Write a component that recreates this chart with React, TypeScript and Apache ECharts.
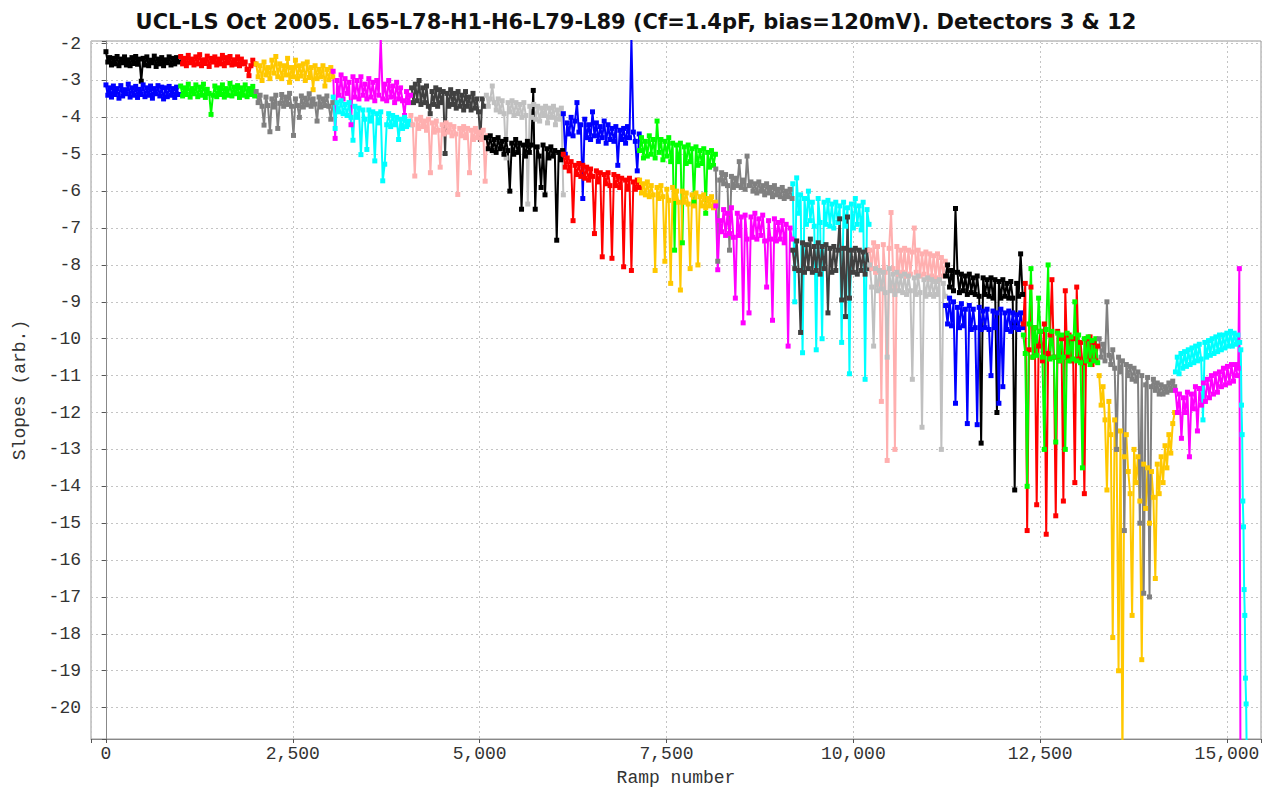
import React, { useEffect, useRef } from "react";
import * as echarts from "echarts";

// ---- axis ticks ----
const xTicks = [0, 2500, 5000, 7500, 10000, 12500, 15000];
const yTicks = [-2, -3, -4, -5, -6, -7, -8, -9, -10, -11, -12, -13, -14, -15, -16, -17, -18, -19, -20];

// ---- series values, evenly spread over each ramp block ----
const blk01Black = [-2.22,-2.5,-2.38,-2.58,-2.4,-2.55,-2.35,-2.6,-2.42,-2.52,-2.36,-2.58,-2.44,-2.6,-2.38,-2.54,-2.35,-2.56,-2.42,-3.02,-2.4,-2.58,-2.36,-2.6,-2.45,-2.52,-2.34,-2.62,-2.42,-2.55,-2.38,-2.6,-2.44,-2.52,-2.36,-2.58,-2.4,-2.55,-2.38,-2.5];
const blk01Blue = [-3.12,-3.4,-3.2,-3.45,-3.15,-3.38,-3.22,-3.48,-3.14,-3.42,-3.25,-3.36,-3.1,-3.45,-3.2,-3.4,-3.16,-3.46,-3.24,-3.38,-3.12,-3.44,-3.2,-3.4,-3.15,-3.48,-3.22,-3.36,-3.14,-3.42,-3.18,-3.5,-3.2,-3.44,-3.16,-3.4,-3.22,-3.46,-3.18,-3.38];
const blk02Red = [-2.35,-2.55,-2.4,-2.6,-2.32,-2.52,-2.42,-2.58,-2.36,-2.55,-2.3,-2.6,-2.44,-2.54,-2.34,-2.62,-2.4,-2.5,-2.36,-2.58,-2.42,-2.55,-2.32,-2.6,-2.38,-2.52,-2.35,-2.58,-2.44,-2.56,-2.36,-2.6,-2.42,-2.55,-2.5,-2.7,-2.87,-2.6,-2.45,-2.55];
const blk02Green = [-3.15,-3.42,-3.2,-3.38,-3.1,-3.45,-3.22,-3.36,-3.12,-3.44,-3.18,-3.4,-3.1,-3.46,-3.24,-3.35,-3.92,-3.4,-3.15,-3.44,-3.2,-3.38,-3.12,-3.45,-3.22,-3.4,-3.08,-3.42,-3.18,-3.36,-3.14,-3.46,-3.2,-3.4,-3.12,-3.44,-3.22,-3.38,-3.16,-3.42];
const blk03Orange = [-2.55,-2.9,-2.6,-3.0,-2.5,-2.85,-2.65,-2.95,-2.45,-2.8,-2.35,-2.9,-2.55,-2.95,-2.6,-2.85,-2.4,-3.05,-2.65,-2.9,-2.45,-2.95,-2.6,-2.88,-2.55,-3.0,-2.5,-2.92,-2.65,-3.25,-2.6,-2.95,-2.7,-2.9,-2.6,-3.15,-2.7,-2.98,-2.65,-2.9];
const blk03Gray = [-3.3,-3.6,-3.4,-3.7,-4.21,-3.45,-3.68,-4.39,-3.5,-3.72,-3.4,-4.3,-3.62,-3.38,-3.7,-3.45,-3.65,-3.35,-3.7,-4.49,-3.5,-3.68,-4.0,-3.42,-3.72,-3.48,-3.66,-3.36,-3.7,-3.5,-3.64,-4.1,-3.45,-3.72,-3.5,-3.68,-3.42,-3.7,-4.05,-3.6];
const blk04Magenta = [-2.75,-4.57,-3.0,-3.4,-2.85,-3.5,-2.95,-3.35,-3.05,-4.2,-2.9,-3.45,-3.0,-3.5,-2.9,-3.4,-3.1,-3.5,-2.95,-3.45,-3.05,-3.55,-3.0,-3.4,-1.85,-3.5,-3.1,-3.55,-3.0,-3.45,-3.15,-3.6,-3.05,-3.5,-3.2,-3.55,-3.95,-3.3,-3.6,-3.4];
const blk04Cyan = [-3.45,-4.3,-3.6,-3.85,-3.55,-3.9,-3.65,-3.95,-3.6,-4.0,-4.62,-3.7,-4.0,-3.75,-5.01,-3.8,-4.05,-4.87,-3.8,-4.1,-3.85,-5.18,-3.9,-4.15,-3.85,-5.72,-5.27,-4.2,-3.9,-4.25,-3.95,-4.2,-4.0,-4.6,-4.05,-4.3,-4.0,-4.25,-4.1,-4.2];
const blk05DarkGray = [-3.2,-3.6,-3.1,-3.55,-3.0,-3.65,-3.2,-3.6,-3.15,-3.7,-3.9,-3.3,-3.65,-3.2,-3.7,-3.25,-3.6,-3.3,-4.98,-3.35,-3.7,-3.25,-3.65,-3.35,-3.75,-3.3,-3.7,-3.4,-3.8,-3.3,-3.7,-3.45,-3.8,-3.35,-3.75,-3.5,-3.85,-4.6,-3.5,-3.7];
const blk05Pink = [-3.95,-4.2,-5.59,-4.05,-4.3,-4.0,-4.25,-4.1,-4.35,-4.05,-5.5,-4.15,-4.4,-4.1,-4.35,-5.35,-4.2,-4.45,-4.15,-4.4,-4.2,-4.5,-4.25,-4.45,-6.09,-4.3,-4.5,-4.25,-4.55,-4.3,-5.5,-4.35,-4.6,-4.3,-4.55,-4.4,-4.6,-4.35,-5.73,-4.5];
const blk06LightGray = [-3.4,-3.7,-3.5,-3.15,-3.6,-3.8,-3.5,-3.85,-3.55,-3.9,-5.1,-3.6,-3.85,-3.55,-3.95,-3.6,-3.9,-3.65,-4.0,-3.6,-3.95,-6.35,-3.7,-4.0,-3.65,-4.05,-3.7,-4.1,-3.75,-3.95,-3.7,-4.15,-3.75,-4.0,-3.7,-4.2,-3.8,-4.05,-3.75,-6.1];
const blk06Black = [-4.55,-4.85,-4.5,-4.9,-4.6,-4.95,-4.55,-4.85,-4.65,-5.0,-4.6,-4.9,-6.0,-4.7,-5.0,-4.6,-4.95,-4.7,-6.49,-4.75,-5.05,-4.65,-4.95,-4.75,-3.27,-6.49,-4.8,-5.05,-5.9,-4.75,-6.1,-4.85,-5.1,-4.8,-5.05,-4.9,-7.33,-4.95,-5.15,-4.9];
const blk07Blue = [-3.9,-5.0,-4.15,-4.45,-4.0,-4.5,-4.1,-3.6,-4.4,-4.2,-6.2,-4.05,-4.55,-4.2,-4.6,-3.85,-4.5,-4.15,-4.65,-4.25,-4.55,-4.1,-4.7,-4.2,-4.6,-4.3,-4.65,-4.25,-5.3,-4.35,-4.6,-4.3,-4.7,-4.25,-4.55,-1.85,-4.4,-4.65,-5.45,-4.45];
const blk07Red = [-5.0,-5.35,-5.1,-5.45,-5.2,-6.8,-5.3,-5.55,-5.25,-5.6,-5.3,-5.65,-5.35,-5.7,-5.4,-5.6,-7.15,-5.45,-5.75,-5.5,-7.78,-5.55,-5.8,-5.5,-5.85,-7.82,-5.55,-5.85,-5.6,-5.9,-5.65,-8.05,-5.7,-5.95,-5.65,-8.15,-5.75,-5.95,-5.7,-5.9];
const blk08Green = [-4.9,-4.55,-5.1,-4.65,-5.05,-4.5,-5.0,-4.6,-5.1,-4.1,-4.95,-4.6,-5.15,-4.65,-5.05,-4.55,-5.2,-4.7,-7.6,-4.75,-5.2,-4.7,-7.4,-4.8,-5.25,-4.75,-5.2,-4.85,-6.3,-4.8,-5.3,-4.9,-5.25,-4.85,-6.6,-4.95,-5.35,-4.9,-5.3,-5.0];
const blk08Orange = [-5.7,-6.05,-5.8,-6.1,-5.75,-6.15,-5.85,-6.1,-8.15,-5.9,-6.2,-5.85,-6.15,-7.9,-5.95,-6.25,-8.5,-5.9,-6.2,-6.0,-6.3,-8.68,-6.0,-6.3,-6.05,-6.35,-8.1,-6.1,-6.4,-6.05,-8.0,-6.15,-6.4,-6.1,-6.45,-6.2,-6.4,-6.15,-6.45,-6.3];
const blk09Gray = [-5.4,-7.9,-5.7,-5.5,-5.8,-5.55,-5.85,-7.6,-5.6,-5.9,-5.65,-5.85,-5.2,-5.9,-5.7,-5.95,-5.05,-5.85,-5.75,-6.0,-5.8,-6.05,-5.75,-6.0,-5.85,-6.1,-5.8,-6.05,-5.9,-6.15,-5.85,-6.1,-5.95,-6.15,-5.9,-6.2,-6.0,-6.15,-5.95,-6.2];
const blk09Magenta = [-6.4,-8.13,-6.8,-7.1,-6.5,-7.2,-6.6,-7.15,-6.45,-7.25,-8.9,-6.6,-7.2,-6.7,-9.57,-6.65,-7.3,-9.3,-6.7,-7.25,-6.6,-7.3,-6.75,-7.2,-6.65,-7.35,-8.6,-6.8,-7.3,-9.5,-6.75,-7.35,-6.85,-7.3,-6.8,-7.4,-6.9,-10.2,-7.0,-7.3];
const blk10Cyan = [-5.8,-9.0,-5.64,-6.6,-6.1,-10.38,-6.2,-6.9,-6.0,-6.8,-6.3,-6.95,-10.3,-6.2,-6.85,-10.0,-6.3,-6.9,-6.25,-6.95,-6.35,-7.0,-6.3,-6.85,-6.4,-10.1,-6.3,-6.95,-6.45,-10.95,-6.35,-7.0,-6.2,-6.9,-6.4,-7.05,-6.3,-11.1,-6.5,-6.9];
const blk10DarkGray = [-7.6,-8.1,-7.35,-8.15,-9.83,-7.4,-8.2,-7.45,-8.1,-7.3,-8.2,-7.5,-8.15,-7.4,-8.25,-7.5,-8.1,-7.45,-9.3,-7.55,-8.2,-7.5,-8.15,-7.6,-6.75,-8.95,-7.55,-9.4,-6.7,-8.9,-7.6,-8.2,-7.55,-8.25,-7.6,-8.15,-7.65,-8.25,-7.6,-8.1];
const blk11Pink = [-7.6,-8.1,-7.4,-8.2,-7.5,-8.15,-11.7,-7.45,-8.2,-13.3,-7.55,-6.58,-8.1,-13.0,-7.5,-8.25,-7.6,-8.2,-7.55,-8.3,-7.6,-8.25,-7.65,-7.0,-8.2,-7.6,-8.3,-7.7,-8.25,-7.65,-8.35,-7.7,-8.3,-7.75,-8.35,-7.7,-8.4,-7.8,-8.3,-7.9];
const blk11LightGray = [-8.0,-8.6,-10.2,-8.1,-8.7,-8.15,-8.65,-8.2,-8.75,-10.5,-8.1,-8.7,-8.25,-8.8,-8.2,-8.7,-8.3,-8.75,-8.25,-8.8,-8.3,-8.7,-11.1,-8.35,-8.8,-8.3,-8.75,-12.4,-8.4,-8.85,-8.35,-8.8,-8.4,-8.85,-8.45,-8.8,-8.4,-13.0,-8.5,-8.85];
const blk12Black = [-8.3,-8.0,-8.6,-8.15,-8.7,-6.47,-8.2,-8.75,-8.25,-8.7,-8.3,-8.8,-8.25,-8.75,-8.35,-8.8,-8.3,-8.85,-12.83,-8.35,-8.8,-8.4,-8.85,-8.35,-8.9,-8.4,-12.0,-8.45,-8.9,-8.4,-8.85,-8.5,-8.9,-8.45,-8.9,-14.1,-8.5,-8.85,-7.7,-8.8];
const blk12Blue = [-9.1,-9.6,-8.9,-9.65,-9.0,-11.75,-9.15,-9.7,-9.05,-9.65,-9.2,-12.3,-9.1,-9.75,-9.2,-9.7,-12.33,-9.15,-9.75,-9.25,-9.7,-9.2,-9.75,-11.0,-9.25,-9.7,-9.3,-11.75,-9.2,-11.3,-9.3,-9.75,-9.25,-9.8,-9.3,-9.7,-9.35,-9.75,-9.3,-9.7];
const blk13Red = [-9.6,-8.5,-15.2,-10.3,-8.6,-10.5,-9.7,-14.5,-10.2,-9.8,-10.6,-9.6,-15.3,-10.4,-9.9,-8.4,-10.5,-14.8,-9.8,-10.6,-10.0,-14.4,-8.7,-10.5,-9.9,-10.6,-10.0,-13.9,-8.6,-10.55,-10.1,-10.65,-14.2,-10.0,-10.6,-9.95,-10.7,-10.1,-10.6,-10.2];
const blk13Green = [-9.9,-10.4,-14.0,-9.6,-8.1,-10.5,-9.7,-10.45,-8.9,-9.8,-10.5,-13.0,-9.75,-8.0,-10.55,-9.8,-10.5,-12.8,-9.85,-10.6,-9.9,-10.5,-13.0,-9.85,-10.6,-9.95,-10.55,-9.0,-10.6,-9.9,-10.65,-13.5,-10.0,-10.6,-9.95,-10.7,-10.05,-10.6,-10.0,-10.65];
const blk14Orange = [-11.0,-11.8,-11.3,-12.2,-14.1,-11.7,-12.6,-18.1,-12.2,-13.0,-19.0,-12.5,-21.5,-13.2,-12.6,-13.6,-14.2,-17.5,-13.0,-13.9,-13.2,-14.4,-18.7,-13.4,-14.6,-13.5,-15.0,-13.6,-14.3,-16.5,-13.4,-14.2,-13.2,-13.9,-12.9,-13.5,-12.6,-13.1,-12.3,-12.0];
const blk14Gray = [-10.0,-10.5,-10.15,-10.6,-9.0,-10.45,-10.7,-10.3,-10.8,-13.0,-10.5,-10.9,-10.6,-15.2,-10.7,-11.0,-10.75,-11.1,-10.8,-11.15,-10.9,-15.0,-11.0,-16.9,-11.25,-11.05,-17.0,-11.3,-11.1,-11.4,-11.2,-11.5,-11.25,-11.5,-11.3,-11.45,-11.2,-11.4,-11.15,-11.3];
const blk15Magenta = [-11.4,-12.0,-11.5,-12.7,-11.6,-12.0,-11.45,-13.2,-11.5,-11.9,-11.3,-12.5,-11.35,-11.8,-11.2,-11.7,-11.1,-11.6,-11.0,-11.5,-10.95,-11.45,-10.9,-11.3,-10.8,-11.25,-10.75,-11.2,-10.7,-11.15,-10.7,-11.0];
const blk15Cyan = [-10.9,-10.5,-10.95,-10.4,-10.8,-10.35,-10.75,-10.3,-10.7,-10.25,-10.65,-10.2,-10.6,-10.15,-10.55,-12.2,-10.1,-10.5,-10.05,-10.45,-10.0,-10.4,-9.95,-10.35,-9.9,-10.3,-9.9,-10.25,-9.85,-10.2,-9.8,-10.2,-9.85,-10.15,-9.9,-10.1];
const tailMagenta = [-10.8, -8.1, -21.5];
const tailCyan = [-10.3, -11.8, -12.6, -14.4, -15.1, -16.8, -17.5, -19.2, -19.9, -21.5];

// ---- colours ----
const BLACK = "#000000";
const BLUE = "#0000ff";
const RED = "#ff0000";
const GREEN = "#00ff00";
const ORANGE = "#ffc800";
const GRAY = "#808080";
const MAGENTA = "#ff00ff";
const CYAN = "#00ffff";
const DARKGRAY = "#404040";
const PINK = "#ffafaf";
const LIGHTGRAY = "#c0c0c0";

// [values, colour, first ramp, last ramp]
const blocks: [number[], string, number, number][] = [
  [blk01Black, BLACK, 0, 970],
  [blk01Blue, BLUE, 0, 970],
  [blk02Red, RED, 1000, 1990],
  [blk02Green, GREEN, 1000, 1990],
  [blk03Orange, ORANGE, 2010, 3035],
  [blk03Gray, GRAY, 2010, 3035],
  [blk04Magenta, MAGENTA, 3040, 4075],
  [blk04Cyan, CYAN, 3040, 4075],
  [blk05DarkGray, DARKGRAY, 4090, 5060],
  [blk05Pink, PINK, 4080, 5100],
  [blk06LightGray, LIGHTGRAY, 5090, 6120],
  [blk06Black, BLACK, 5090, 6110],
  [blk07Blue, BLUE, 6120, 7135],
  [blk07Red, RED, 6120, 7135],
  [blk08Green, GREEN, 7140, 8155],
  [blk08Orange, ORANGE, 7140, 8155],
  [blk09Gray, GRAY, 8160, 9180],
  [blk09Magenta, MAGENTA, 8160, 9180],
  [blk10Cyan, CYAN, 9190, 10210],
  [blk10DarkGray, DARKGRAY, 9190, 10210],
  [blk11Pink, PINK, 10220, 11230],
  [blk11LightGray, LIGHTGRAY, 10220, 11230],
  [blk12Black, BLACK, 11235, 12265],
  [blk12Blue, BLUE, 11235, 12265],
  [blk13Red, RED, 12275, 13270],
  [blk13Green, GREEN, 12275, 13270],
  [blk14Orange, ORANGE, 13290, 14300],
  [blk14Gray, GRAY, 13290, 14300],
  [blk15Magenta, MAGENTA, 14310, 15140],
  [blk15Cyan, CYAN, 14310, 15170],
  [tailMagenta, MAGENTA, 15150, 15180],
  [tailCyan, CYAN, 15185, 15265],
];

const monoFont = "Liberation Mono";

function withCommas(v: number) {
  return String(v).replace(/\B(?=(\d{3})+(?!\d))/g, ",");
}

function buildOption() {
  const series = blocks.map(([vals, color, x0, x1], k) => ({
    type: "line",
    name: "s" + k,
    data: vals.map((v, i) => [x0 + ((x1 - x0) * i) / (vals.length - 1), v]),
    lineStyle: { color, width: 2 },
    itemStyle: { color },
    symbol: "rect",
    symbolSize: 5,
    showSymbol: true,
    clip: true,
    silent: true,
    emphasis: { disabled: true },
  }));

  return {
    animation: false,
    backgroundColor: "#ffffff",
    title: {
      text: "UCL-LS Oct 2005. L65-L78-H1-H6-L79-L89 (Cf=1.4pF, bias=120mV). Detectors 3 & 12",
      left: 631,
      textAlign: "center",
      top: 6,
      textStyle: { fontFamily: "DejaVu Sans", fontWeight: "bold", fontSize: 21, color: "#111" },
    },
    grid: { left: 91, right: 12, top: 41, bottom: 48, show: true, borderColor: "#999", borderWidth: 1, containLabel: false },
    xAxis: {
      type: "value",
      min: -200,
      max: 15455,
      minInterval: 2500,
      maxInterval: 2500,
      name: "Ramp number",
      nameLocation: "middle",
      nameGap: 30,
      nameTextStyle: { fontFamily: monoFont, fontSize: 18, color: "#333" },
      axisLine: { show: true, lineStyle: { color: "#888", width: 1 } },
      axisTick: { show: true, length: 4, lineStyle: { color: "#555" } },
      axisLabel: {
        fontFamily: monoFont,
        fontSize: 18,
        color: "#333",
        margin: 6,
        formatter: (v: number) => (xTicks.includes(v) ? withCommas(v) : ""),
      },
      splitLine: { show: true, lineStyle: { color: "#c4c4c4", type: [2, 3], width: 1 } },
    },
    yAxis: {
      type: "value",
      min: -20.85,
      max: -1.93,
      minInterval: 1,
      maxInterval: 1,
      name: "Slopes (arb.)",
      nameLocation: "middle",
      nameGap: 62,
      nameTextStyle: { fontFamily: monoFont, fontSize: 18, color: "#333" },
      axisLine: { show: true, lineStyle: { color: "#888", width: 1 } },
      axisTick: { show: true, length: 4, lineStyle: { color: "#555" } },
      axisLabel: {
        fontFamily: monoFont,
        fontSize: 18,
        color: "#333",
        margin: 10,
        formatter: (v: number) => (yTicks.includes(v) ? String(v) : ""),
      },
      splitLine: { show: true, lineStyle: { color: "#c4c4c4", type: [2, 3], width: 1 } },
    },
    series,
  };
}

export default function App() {
  const ref = useRef<HTMLDivElement>(null);
  useEffect(() => {
    document.body.style.margin = "0";
    const chart = echarts.init(ref.current as HTMLDivElement, undefined, { renderer: "svg" });
    chart.setOption(buildOption() as any);
    return () => chart.dispose();
  }, []);
  return <div ref={ref} style={{ width: 1273, height: 792, background: "#fff" }} />;
}
